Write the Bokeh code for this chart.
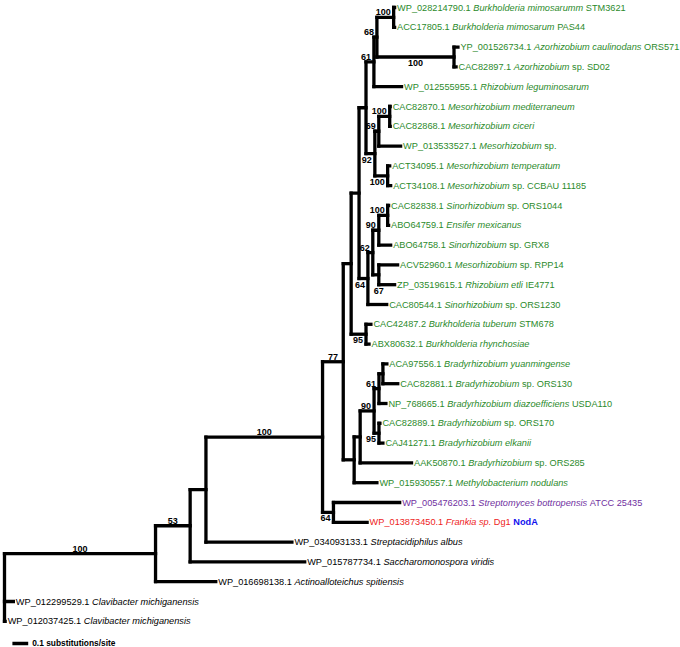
from bokeh.plotting import figure
from bokeh.models import ColumnDataSource, Range1d
from bokeh.core.properties import value
from bokeh.embed import file_html
from bokeh.resources import INLINE

# ---------------- data ----------------
# NodA tree, branch lengths in substitutions/site, internal labels = bootstrap support
newick = (
    "((((((((((((WP_028214790.1:0.006,ACC17805.1:0.006)100:0.106,"
    "(YP_001526734.1:0.025,CAC82897.1:0.013)100:0.488)68:0.019,"
    "WP_012555955.1:0.175)61:0.05,"
    "(((CAC82870.1:0.003,CAC82868.1:0.003)100:0.069,WP_013533527.1:0.138)69:0.025,"
    "(ACT34095.1:0.013,ACT34108.1:0.019)100:0.081)92:0.056):0.044,"
    "((((CAC82838.1:0.006,ABO64759.1:0.006)100:0.056,ABO64758.1:0.075)90:0.038,"
    "(ACV52960.1:0.119,ZP_03519615.1:0.1)67:0.038)62:0.031,"
    "CAC80544.1:0.119)64:0.056):0.05,"
    "(CAC42487.2:0.031,ABX80632.1:0.019)95:0.094):0.05,"
    "(((((ACA97556.1:0.025,CAC82881.1:0.094):0.025,NP_768665.1:0.044)61:0.031,"
    "(CAC82889.1:0.006,CAJ41271.1:0.025)95:0.031)90:0.088,"
    "AAK50870.1:0.325):0.038,WP_015930557.1:0.144):0.069)77:0.131,"
    "(WP_005476203.1:0.419,WP_013873450.1:0.213)64:0.069)100:0.738,"
    "WP_034093133.1:0.544):0.1,"
    "WP_015787734.1:0.725)53:0.219,"
    "WP_016698138.1:0.381)100:0.956,"
    "WP_012299529.1:0.056,WP_012037425.1:0.004);"
)

accessions = [
    "WP_028214790.1", "ACC17805.1", "YP_001526734.1", "CAC82897.1", "WP_012555955.1",
    "CAC82870.1", "CAC82868.1", "WP_013533527.1", "ACT34095.1", "ACT34108.1",
    "CAC82838.1", "ABO64759.1", "ABO64758.1", "ACV52960.1", "ZP_03519615.1",
    "CAC80544.1", "CAC42487.2", "ABX80632.1", "ACA97556.1", "CAC82881.1",
    "NP_768665.1", "CAC82889.1", "CAJ41271.1", "AAK50870.1", "WP_015930557.1",
    "WP_005476203.1", "WP_013873450.1", "WP_034093133.1", "WP_015787734.1",
    "WP_016698138.1", "WP_012299529.1", "WP_012037425.1",
]
species = [
    "Burkholderia mimosarumm", "Burkholderia mimosarum", "Azorhizobium caulinodans",
    "Azorhizobium", "Rhizobium leguminosarum", "Mesorhizobium mediterraneum",
    "Mesorhizobium ciceri", "Mesorhizobium", "Mesorhizobium temperatum", "Mesorhizobium",
    "Sinorhizobium", "Ensifer mexicanus", "Sinorhizobium", "Mesorhizobium",
    "Rhizobium etli", "Sinorhizobium", "Burkholderia tuberum", "Burkholderia rhynchosiae",
    "Bradyrhizobium yuanmingense", "Bradyrhizobium", "Bradyrhizobium diazoefficiens",
    "Bradyrhizobium", "Bradyrhizobium elkanii", "Bradyrhizobium", "Methylobacterium nodulans",
    "Streptomyces bottropensis", "Frankia sp.", "Streptacidiphilus albus",
    "Saccharomonospora viridis", "Actinoalloteichus spitiensis",
    "Clavibacter michiganensis", "Clavibacter michiganensis",
]
strains = [
    "STM3621", "PAS44", "ORS571", "sp. SD02", "", "", "", "sp.", "", "sp. CCBAU 11185",
    "sp. ORS1044", "", "sp. GRX8", "sp. RPP14", "IE4771", "sp. ORS1230", "STM678", "",
    "", "sp. ORS130", "USDA110", "sp. ORS170", "", "sp. ORS285", "",
    "ATCC 25435", "Dg1", "", "", "", "", "",
]
label_group = (["rhizobia"] * 25 + ["streptomyces", "frankia"] + ["outgroup"] * 5)
group_color = {"rhizobia": "#2b8a2b", "streptomyces": "#7030a0",
               "frankia": "#ee1c1c", "outgroup": "#000000"}
marker_leaf = "WP_013873450.1"
marker_text = "NodA"
marker_color = "#1010ee"

# side of the branch where each support value sits (textual order in newick)
support_side = ["above", "below", "above", "above", "above", "above", "below", "below",
                "above", "above", "under", "above", "below", "below", "above", "below",
                "above", "above", "below", "above", "above", "above"]

scale_length = 0.1
scale_text = "0.1 substitutions/site"

# ---------------- parsing / layout ----------------
def parse_newick(s):
    pos = [0]

    def node():
        children = []
        if s[pos[0]] == "(":
            pos[0] += 1
            children.append(node())
            while s[pos[0]] == ",":
                pos[0] += 1
                children.append(node())
            assert s[pos[0]] == ")"
            pos[0] += 1
        start = pos[0]
        while s[pos[0]] not in ":,);":
            pos[0] += 1
        name = s[start:pos[0]]
        length = 0.0
        if s[pos[0]] == ":":
            pos[0] += 1
            start = pos[0]
            while s[pos[0]] not in ",);":
                pos[0] += 1
            length = float(s[start:pos[0]])
        return {"name": name, "length": length, "children": children}

    return node()


tree = parse_newick(newick)
leaves, supports = [], []


def layout(nd, x0):
    nd["x"] = x0 + nd["length"]
    if not nd["children"]:
        nd["y"] = float(len(leaves))
        leaves.append(nd)
        return
    for c in nd["children"]:
        layout(c, nd["x"])
    nd["y"] = (nd["children"][0]["y"] + nd["children"][-1]["y"]) / 2.0
    if nd["name"]:
        supports.append(nd)


layout(tree, 0.0)
assert [l["name"] for l in leaves] == accessions

sx0, sy0, sx1, sy1 = [], [], [], []


def collect(nd, parent_x):
    if parent_x is not None:
        sx0.append(parent_x); sy0.append(nd["y"]); sx1.append(nd["x"]); sy1.append(nd["y"])
    if nd["children"]:
        sx0.append(nd["x"]); sy0.append(nd["children"][0]["y"])
        sx1.append(nd["x"]); sy1.append(nd["children"][-1]["y"])
        for c in nd["children"]:
            collect(c, nd["x"])


collect(tree, None)

# ---------------- figure ----------------
W, H = 680, 647
PX_PER_UNIT = 158.0
x_start = -4.0 / PX_PER_UNIT
n = len(leaves)
PX_PER_LEAF = 19.8
y_top = -7.0 / PX_PER_LEAF
y_bottom = y_top + H / PX_PER_LEAF

p = figure(width=W, height=H, output_backend="svg", toolbar_location=None,
           x_range=Range1d(x_start, x_start + W / PX_PER_UNIT),
           y_range=Range1d(y_bottom, y_top),
           x_axis_type=None, y_axis_type=None, min_border=0)
p.outline_line_color = None
p.grid.grid_line_color = None
p.background_fill_color = "white"

LW = 3.3
p.segment(x0=sx0, y0=sy0, x1=sx1, y1=sy1, line_color="black",
          line_width=LW, line_cap="square")

# text width estimate (Arial / Liberation Sans metrics, per 1000 em)
_w = {" ": 278, ".": 278, "_": 556, "/": 278}
for ch in "0123456789":
    _w[ch] = 556
for ch, v in zip("ABCDEFGHIJKLMNOPQRSTUVWXYZ",
                 [667, 667, 722, 722, 667, 611, 778, 722, 278, 500, 667, 556, 833,
                  722, 778, 667, 778, 722, 667, 611, 722, 667, 944, 667, 667, 611]):
    _w[ch] = v
for ch, v in zip("abcdefghijklmnopqrstuvwxyz",
                 [556, 556, 500, 556, 556, 278, 556, 556, 222, 222, 500, 222, 833,
                  556, 556, 556, 556, 333, 500, 278, 556, 500, 722, 500, 500, 500]):
    _w[ch] = v


def tw(s, size):
    return sum(_w.get(c, 556) for c in s) * size / 1000.0


FS = 9.2
FONT = "Liberation Sans"
norm = dict(x=[], y=[], text=[], xo=[], color=[])
ital = dict(x=[], y=[], text=[], xo=[], color=[])
bold = dict(x=[], y=[], text=[], xo=[], color=[])
for i, lf in enumerate(leaves):
    col = group_color[label_group[i]]
    off = 2.5
    norm["x"].append(lf["x"]); norm["y"].append(lf["y"]); norm["text"].append(accessions[i])
    norm["xo"].append(off); norm["color"].append(col)
    off += tw(accessions[i] + " ", FS)
    ital["x"].append(lf["x"]); ital["y"].append(lf["y"]); ital["text"].append(species[i])
    ital["xo"].append(off); ital["color"].append(col)
    off += tw(species[i] + " ", FS)
    if strains[i]:
        norm["x"].append(lf["x"]); norm["y"].append(lf["y"]); norm["text"].append(strains[i])
        norm["xo"].append(off); norm["color"].append(col)
        off += tw(strains[i] + " ", FS)
    if accessions[i] == marker_leaf:
        bold["x"].append(lf["x"]); bold["y"].append(lf["y"]); bold["text"].append(marker_text)
        bold["xo"].append(off); bold["color"].append(marker_color)

for d, style in ((norm, "normal"), (ital, "italic"), (bold, "bold")):
    src = ColumnDataSource(d)
    p.text(x="x", y="y", text="text", x_offset="xo", text_color="color", source=src,
           text_font=value(FONT), text_font_size=f"{FS}px", text_font_style=style,
           text_baseline="middle", text_align="left")

# bootstrap supports
sup = dict(x=[], y=[], text=[], xo=[], yo=[], align=[], base=[])
for nd, side in zip(supports, support_side):
    sup["text"].append(nd["name"])
    if side == "under":
        sup["x"].append(nd["x"]); sup["xo"].append(0.0); sup["align"].append("center")
        sup["y"].append(nd["children"][-1]["y"]); sup["yo"].append(3.5)
        sup["base"].append("top")
        continue
    if nd["length"] * PX_PER_UNIT >= 20:
        sup["x"].append(nd["x"] - nd["length"] / 2.0); sup["xo"].append(0.0)
        sup["align"].append("center")
    else:
        sup["x"].append(nd["x"]); sup["xo"].append(-3.0); sup["align"].append("right")
    sup["y"].append(nd["y"])
    if side == "above":
        sup["yo"].append(-2.0); sup["base"].append("bottom")
    else:
        sup["yo"].append(3.0); sup["base"].append("top")
p.text(x="x", y="y", text="text", x_offset="xo", y_offset="yo", text_align="align",
       text_baseline="base", source=ColumnDataSource(sup), text_color="black",
       text_font=value(FONT), text_font_size="9px", text_font_style="bold")

# scale bar
bar_y = n + 0.12
bar_x0 = 0.05
p.segment(x0=[bar_x0], y0=[bar_y], x1=[bar_x0 + scale_length], y1=[bar_y],
          line_color="black", line_width=LW)
p.text(x=[bar_x0 + scale_length], y=[bar_y], text=[scale_text], x_offset=4,
       text_font=value(FONT), text_font_size="8.4px", text_font_style="bold",
       text_baseline="middle", text_align="left", text_color="black")

open("out.html", "w").write(file_html(p, INLINE))
